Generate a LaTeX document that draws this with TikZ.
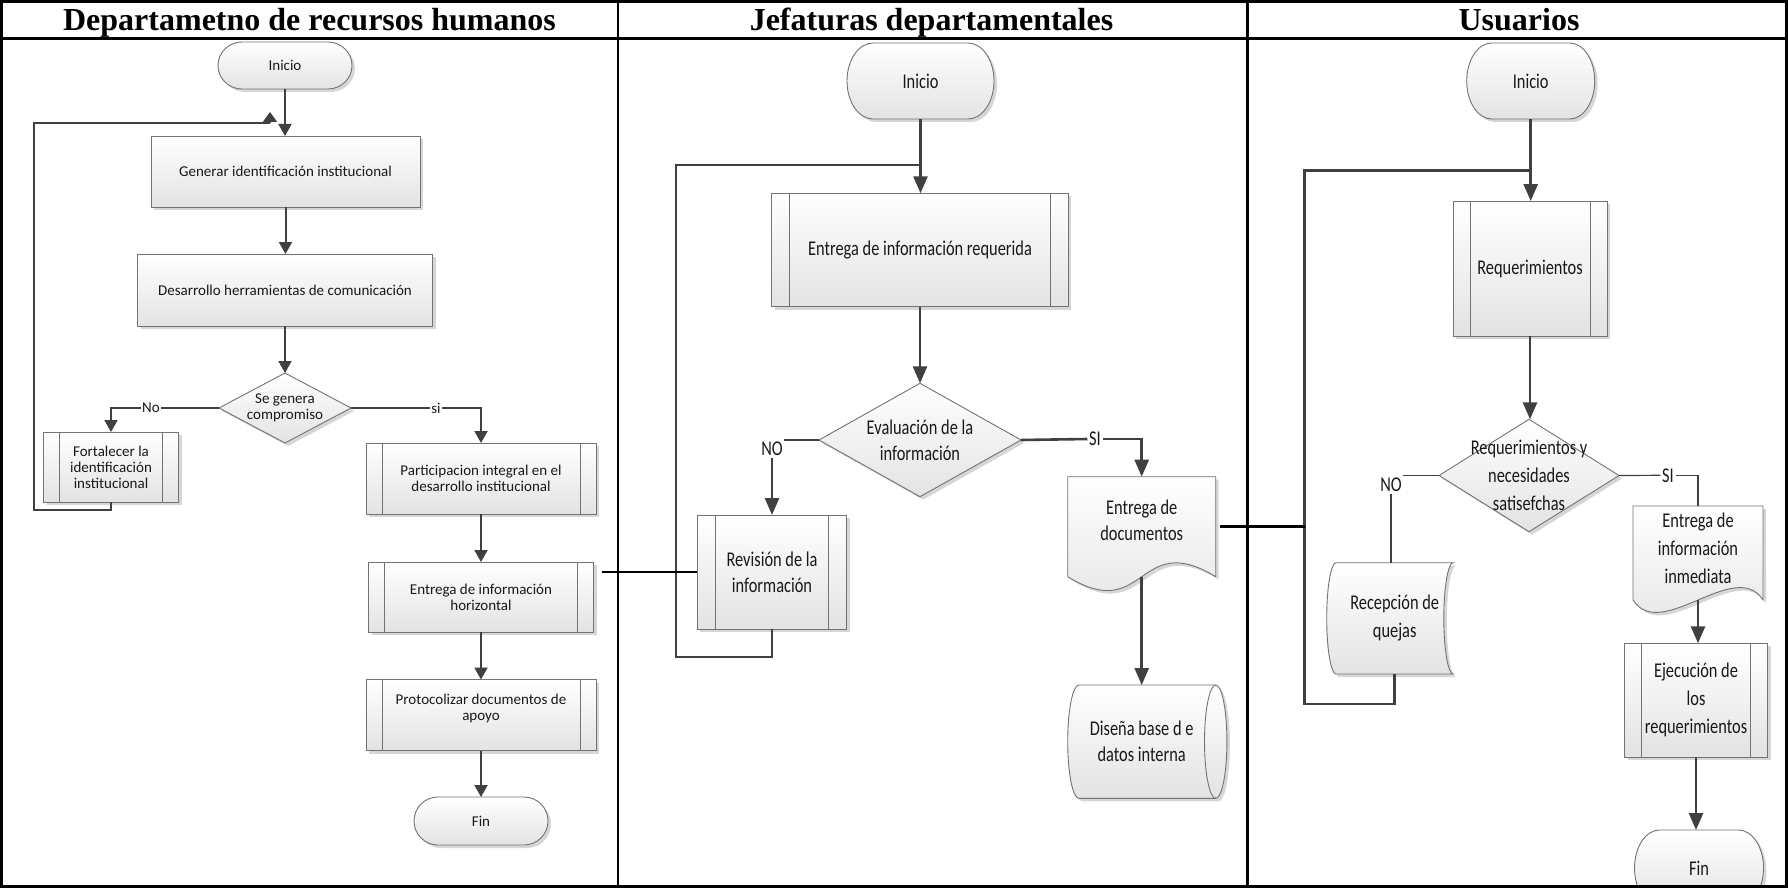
\documentclass[tikz,border=0pt]{standalone}
\usepackage{fontspec}
\setmainfont{Carlito}
\newfontfamily\headfont{Liberation Serif}
\newfontfamily\narrowfont{Carlito}[FakeStretch=0.78]
\usetikzlibrary{arrows.meta,shadows,calc}
\pgfdeclarelayer{bg}
\pgfsetlayers{bg,main}

% outlines drawn from the anchors of a text-holder node
\newcommand\termoutline[3]{% node, end radius x, end radius y
  \path[shp] ([xshift=#2pt]#1.north west) -- ([xshift=-#2pt]#1.north east)
    arc[start angle=-90,end angle=90,x radius=#2,y radius=#3]
    -- ([xshift=#2pt]#1.south west)
    arc[start angle=90,end angle=270,x radius=#2,y radius=#3] -- cycle;}
\newcommand\diamondoutline[1]{%
  \path[shp] (#1.north) -- (#1.east) -- (#1.south) -- (#1.west) -- cycle;}
\newcommand\docoutline[4]{% node, drop of the side edges, wave pull x, wave pull y
  \path[shp] (#1.north west) -- (#1.north east) -- ([yshift=-#2pt]#1.south east)
    .. controls +(-#3,-#4) and +(#3,#4) .. ([yshift=-#2pt]#1.south west) -- cycle;}
\newcommand\cylinderoutline[3]{% node, rx, ry
  \path[shp] (#1.north west) -- ([xshift=#2pt]#1.north east)
    arc[start angle=-90,end angle=90,x radius=#2,y radius=#3]
    -- (#1.south west)
    arc[start angle=90,end angle=270,x radius=#2,y radius=#3] -- cycle;
  \draw[shpline] ([xshift=#2pt]#1.north east)
    arc[start angle=-90,end angle=-270,x radius=#2,y radius=#3];}
\newcommand\storedoutline[3]{% node, rx, ry
  \path[shp] (#1.north west) -- (#1.north east)
    arc[start angle=-90,end angle=-270,x radius=#2,y radius=#3]
    -- (#1.south west)
    arc[start angle=90,end angle=270,x radius=#2,y radius=#3] -- cycle;}

\begin{document}
\begin{tikzpicture}[x=1pt,y=-1pt,
  shpline/.style={draw=black!55, line width=0.9pt},
  shp/.style={shpline, top color=white, bottom color=black!11,
    drop shadow={shadow xshift=3pt, shadow yshift=-3pt, fill=black, opacity=0.16}},
  plainbox/.style={shp, rectangle, inner sep=2pt, outer sep=0pt, align=center},
  procbox/.style={plainbox, path picture={
    \draw[shpline] ([xshift=#1]path picture bounding box.north west) -- ([xshift=#1]path picture bounding box.south west)
      ([xshift=-#1]path picture bounding box.north east) -- ([xshift=-#1]path picture bounding box.south east);}},
  holder/.style={rectangle, inner sep=1pt, outer sep=0pt, align=center},
  txtA/.style={font=\fontsize{15}{16}\selectfont, text=black!90},
  txtB/.style={font=\narrowfont\fontsize{21}{26}\selectfont, text=black!90},
  txtC/.style={font=\narrowfont\fontsize{21}{28}\selectfont, text=black!90},
  lblA/.style={txtA, fill=white, inner sep=1.5pt},
  lblB/.style={txtB, fill=white, inner sep=1.5pt},
  title/.style={font=\headfont\bfseries\fontsize{32}{36}\selectfont, anchor=base},
  lineA/.style={draw=black!75, line width=2pt},
  flowA/.style={lineA, -{Triangle[width=13pt,length=12pt]}},
  lineB/.style={draw=black!75, line width=2.6pt},
  flowB/.style={lineB, -{Triangle[width=14pt,length=17pt]}},
  thinB/.style={draw=black!75, line width=1.2pt},
  link/.style={draw=black, line width=2.5pt},
  laneframe/.style={draw=black, line width=3pt}]

\useasboundingbox (0,0) rectangle (1788,888);

% ---------- lane titles ----------
\node[title] (t1) at (309.5,30.5) {Departametno de recursos humanos};
\node[title] (t2) at (931.5,30.5) {Jefaturas departamentales};
\node[title] (t3) at (1519,30.5) {Usuarios};

% ---------- lane 1: recursos humanos ----------
\node[holder, txtA, minimum width=134pt, minimum height=47pt] (i1) at (285,65.5) {Inicio};
\node[plainbox, txtA, minimum width=269pt, minimum height=71pt] (g1) at (285.5,171.5) {Generar identificación institucional};
\node[plainbox, txtA, minimum width=295pt, minimum height=72pt] (d1) at (285,290) {Desarrollo herramientas de comunicación};
\node[holder, txtA, minimum width=132pt, minimum height=70pt] (q1) at (285,408) {Se genera\\compromiso};
\node[procbox=16pt, txtA, minimum width=135pt, minimum height=70pt] (f1) at (111,467) {Fortalecer la\\identificación\\institucional};
\node[procbox=16pt, txtA, minimum width=230pt, minimum height=71pt] (p1) at (481,478.5) {Participacion integral en el\\desarrollo institucional};
\node[procbox=16pt, txtA, minimum width=225pt, minimum height=70pt] (e1) at (481,597) {Entrega de información\\horizontal};
\node[procbox=16pt, txtA, minimum width=230pt, minimum height=71pt] (r1) at (481,715) {Protocolizar documentos de\\apoyo\\~};
\node[holder, txtA, minimum width=134pt, minimum height=48pt] (fin1) at (481,821) {Fin};
\node[lblA] (no1) at (151,408) {No};
\node[lblA] (si1) at (436,408) {si};

% ---------- lane 2: jefaturas ----------
\node[holder, txtB, minimum width=147pt, minimum height=76pt] (i2) at (920.5,81) {Inicio};
\node[procbox=18pt, txtB, minimum width=296.5pt, minimum height=113.5pt] (e2) at (920,250) {Entrega de información requerida};
\node[holder, txtB, minimum width=202pt, minimum height=113.4pt] (q2) at (920,440) {Evaluación de la\\información};
\node[procbox=18.5pt, txtB, minimum width=149.5pt, minimum height=114pt] (rv) at (772,572) {Revisión de la\\información};
\node[holder, txtB, minimum width=148pt, minimum height=88pt] (ed) at (1141.7,520.7) {Entrega de\\documentos};
\node[holder, txtB, minimum width=125.6pt, minimum height=113.3pt] (db) at (1141.7,741.65) {Diseña base d e\\datos interna};
\node[lblB] (no2) at (772,449) {NO};
\node[lblB] (si2) at (1095,439) {SI};

% ---------- lane 3: usuarios ----------
\node[holder, txtC, minimum width=128pt, minimum height=76pt] (i3) at (1530.7,81) {Inicio};
\node[procbox=17pt, txtC, minimum width=154pt, minimum height=135pt] (rq) at (1530,268.5) {Requerimientos};
\node[holder, txtC, minimum width=180pt, minimum height=112.4pt] (q3) at (1529,475.5) {Requerimientos y\\necesidades\\satisefchas};
\node[holder, txtC, minimum width=117.1pt, minimum height=111.3pt] (rc) at (1394.65,618.35) {Recepción de\\quejas};
\node[holder, txtC, minimum width=130pt, minimum height=84pt] (ei) at (1698,548) {Entrega de\\información\\inmediata};
\node[procbox=17pt, txtC, minimum width=143pt, minimum height=114pt] (ej) at (1696,700.3) {Ejecución de\\los\\requerimientos};
\node[holder, txtC, minimum width=129pt, minimum height=76pt] (fin3) at (1699,868) {Fin};
\node[lblB] (no3) at (1391,485) {NO};
\node[lblB] (si3) at (1668,475.3) {SI};

% ---------- page ground and drawn outlines behind the texts ----------
\begin{pgfonlayer}{bg}
  \fill[white] (0,0) rectangle (1788,888);
  \termoutline{i1}{24}{23.5}
  \diamondoutline{q1}
  \termoutline{fin1}{24}{24}
  \termoutline{i2}{26}{38}
  \diamondoutline{q2}
  \docoutline{ed}{12}{78.5}{48}
  \cylinderoutline{db}{11.2}{56.65}
  \termoutline{i3}{25}{38}
  \diamondoutline{q3}
  \storedoutline{rc}{9.4}{55.65}
  \docoutline{ei}{10}{28}{43}
  \termoutline{fin3}{25}{38}
\end{pgfonlayer}

% ---------- connectors, lane 1 ----------
\coordinate (lp1a) at (34,510);
\coordinate (lp1b) at (34,123);
\coordinate (lp1c) at (270,123);
\draw[flowA] (i1.south) -- (i1.south |- g1.north);
\draw[flowA] (g1.south) -- (g1.south |- d1.north);
\draw[flowA] (d1.south) -- (d1.south |- q1.north);
\draw[lineA] (q1.west) -- (no1.east);
\draw[flowA] (no1.west) -| (f1.north);
\draw[lineA] (q1.east) -- (si1.west);
\draw[flowA] (si1.east) -| (p1.north);
\draw[flowA] (p1.south) -- (e1.north);
\draw[flowA] (e1.south) -- (r1.north);
\draw[flowA] (r1.south) -- (fin1.north);
\draw[lineA] (f1.south) |- (lp1a) -- (lp1b) -- (lp1c);
\draw[lineA, -{Triangle[width=14pt,length=10pt]}] (lp1c) -- ++(0,-11);

% ---------- connectors, lane 2 ----------
\coordinate (lp2b) at (676,657);
\coordinate (lp2c) at (676,165);
\draw[flowB] (i2.south) -- (i2.south |- e2.north);
\draw[lineB] (rv.south) |- (lp2b) -- (lp2c) -- (lp2c -| e2.north);
\draw[flowB] (e2.south) -- (q2.north);
\draw[lineB] (q2.west) -- (q2.west -| no2.east);
\draw[flowB] (no2.south) -- (no2.south |- rv.north);
\draw[lineB] (q2.east) -- (si2.west);
\draw[flowB] (si2.east) -| (ed.north);
\coordinate (edb) at ([yshift=-12pt]ed.south);
\draw[flowB] (edb) -- (edb |- db.north);

% ---------- connectors, lane 3 ----------
\coordinate (lp3a) at (1304.7,170.7);
\coordinate (lp3b) at (1304.7,704);
\draw[flowB] (i3.south) -- (i3.south |- rq.north);
\draw[lineB] (rc.south) |- (lp3b) -- (lp3a) -- (lp3a -| rq.north);
\draw[flowB] (rq.south) -- (rq.south |- q3.north);
\draw[thinB] (q3.west) -- (q3.west -| no3.east);
\draw[thinB] (no3.south) -- (no3.south |- rc.north);
\draw[thinB] (q3.east) -- (si3.west);
\draw[thinB] (si3.east) -| (ei.north);
\coordinate (eib) at ([yshift=-10pt]ei.south);
\draw[flowB] (eib) -- (eib |- ej.north);
\draw[flowB] (ej.south) -- (ej.south |- fin3.north);

% ---------- links between lanes ----------
\coordinate (e1r) at ([xshift=8pt]e1.east);
\draw[link] (e1r |- rv.west) -- (rv.west);
\coordinate (edr) at ([xshift=4pt,yshift=-6pt]ed.east);
\draw[link] (edr) -- (edr -| lp3a);

% ---------- lane frame ----------
\draw[laneframe] (1.5,1.5) rectangle (1786.5,886.5);
\draw[laneframe, line width=2.5pt] (0,38.5) -- (1788,38.5);
\draw[laneframe, line width=2.5pt] (617.8,0) -- (617.8,888);
\draw[laneframe, line width=2.5pt] (1247.6,0) -- (1247.6,888);
\end{tikzpicture}
\end{document}
